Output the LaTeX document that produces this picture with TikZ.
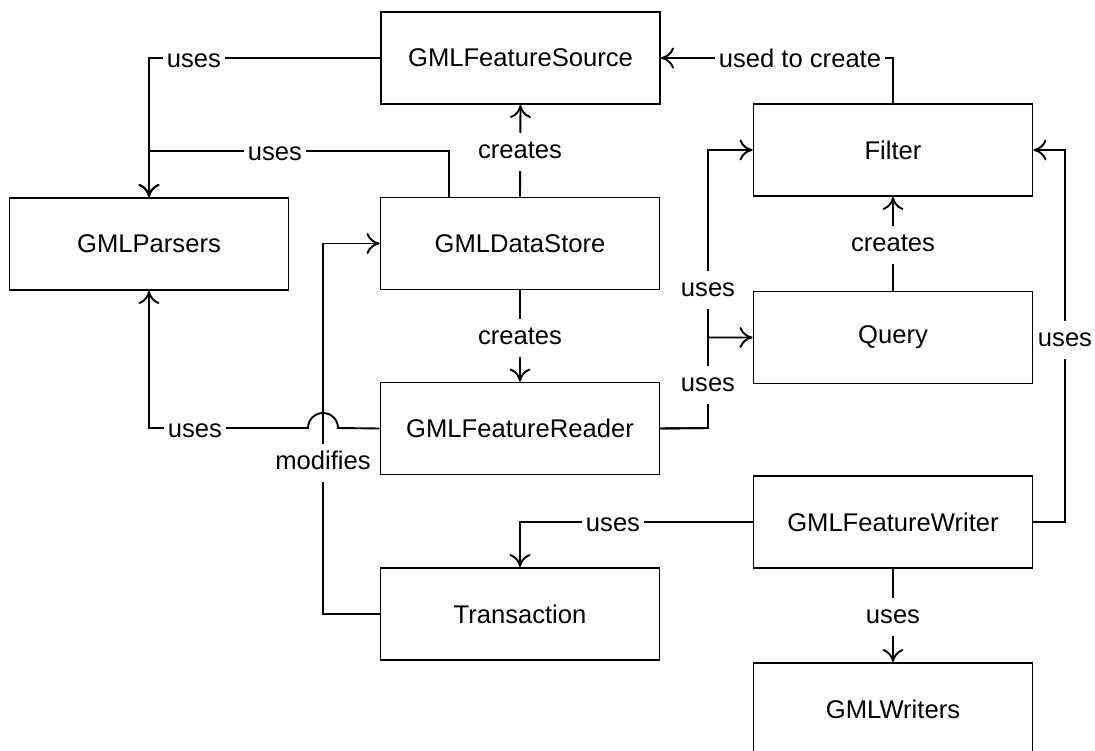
\documentclass[tikz,border=0pt]{standalone}
\usepackage{fontspec}
\setmainfont{Liberation Sans}
\usetikzlibrary{arrows.meta}
\begin{document}
\begin{tikzpicture}[x=1pt,y=-1pt,
  every node/.style={font=\fontsize{25.6}{30}\selectfont},
  box/.style={draw, line width=1.9pt, minimum width=279pt, minimum height=92pt, inner sep=0pt},
  conn/.style={line width=1.9pt, -{Computer Modern Rightarrow[length=13pt,width=21pt]}},
  lab/.style={fill=white, inner xsep=3.5pt, inner ysep=7pt, text height=18.5pt, text depth=5.5pt}]
\useasboundingbox (0,0) rectangle (1095,751);
\clip (0,0) rectangle (1095,751);
% boxes
\node[box] (src) at (520.5,58) {GMLFeatureSource};
\node[box] (parsers) at (149,244) {GMLParsers};
\node[box] (ds) at (520,243.5) {GMLDataStore};
\node[box] (reader) at (520,428.5) {GMLFeatureReader};
\node[box] (trans) at (520,614) {Transaction};
\node[box] (filter) at (893,150) {Filter};
\node[box] (query) at (893,337.5) {Query};
\node[box] (writer) at (893,522) {GMLFeatureWriter};
\node[box] (writers) at (893,709) {GMLWriters};
% junctions
\coordinate (j1) at (149,151);
\coordinate (mod) at (323,614);
\coordinate (hopR) at (338,428);
\coordinate (hopL) at (149,428);
\coordinate (rq) at (708,428);
\coordinate (wf) at (1065,522);
% connectors
\draw[conn] (src.west) -| (parsers.north);
\draw[conn] ([xshift=-71pt]ds.north) |- (j1) -- (parsers.north);
\draw[conn] (ds.north) -- (src.south);
\draw[conn] (ds.south) -- (reader.north);
\draw[conn] (trans.west) -- (mod) |- (ds.west);
\draw[conn] (reader.west) -- (hopR) arc[start angle=0, end angle=180, radius=15pt] -- (hopL) -- (parsers.south);
\draw[conn] (reader.east) -- (rq) |- (query.west);
\draw[conn] (reader.east) -- (rq) |- (filter.west);
\draw[conn] (query.north) -- (filter.south);
\draw[conn] (filter.north) |- (src.east);
\draw[conn] (writer.east) -- (wf) |- (filter.east);
\draw[conn] (writer.west) -| (trans.north);
\draw[conn] (writer.south) -- (writers.north);
% labels
\node[lab] (l1) at (194,61) {uses};
\node[lab] (l2) at (275,154) {uses};
\node[lab] (l3) at (520,152.5) {creates};
\node[lab] (l4) at (520,338) {creates};
\node[lab] (l5) at (195,431) {uses};
\node[lab] (l6) at (323,463) {modifies};
\node[lab] (l7) at (708,290) {uses};
\node[lab] (l8) at (708,385) {uses};
\node[lab] (l9) at (893,245) {creates};
\node[lab] (l10) at (800,61) {used to create};
\node[lab] (l11) at (1065,340) {uses};
\node[lab] (l12) at (613,525) {uses};
\node[lab] (l13) at (893,617) {uses};
\end{tikzpicture}
\end{document}
